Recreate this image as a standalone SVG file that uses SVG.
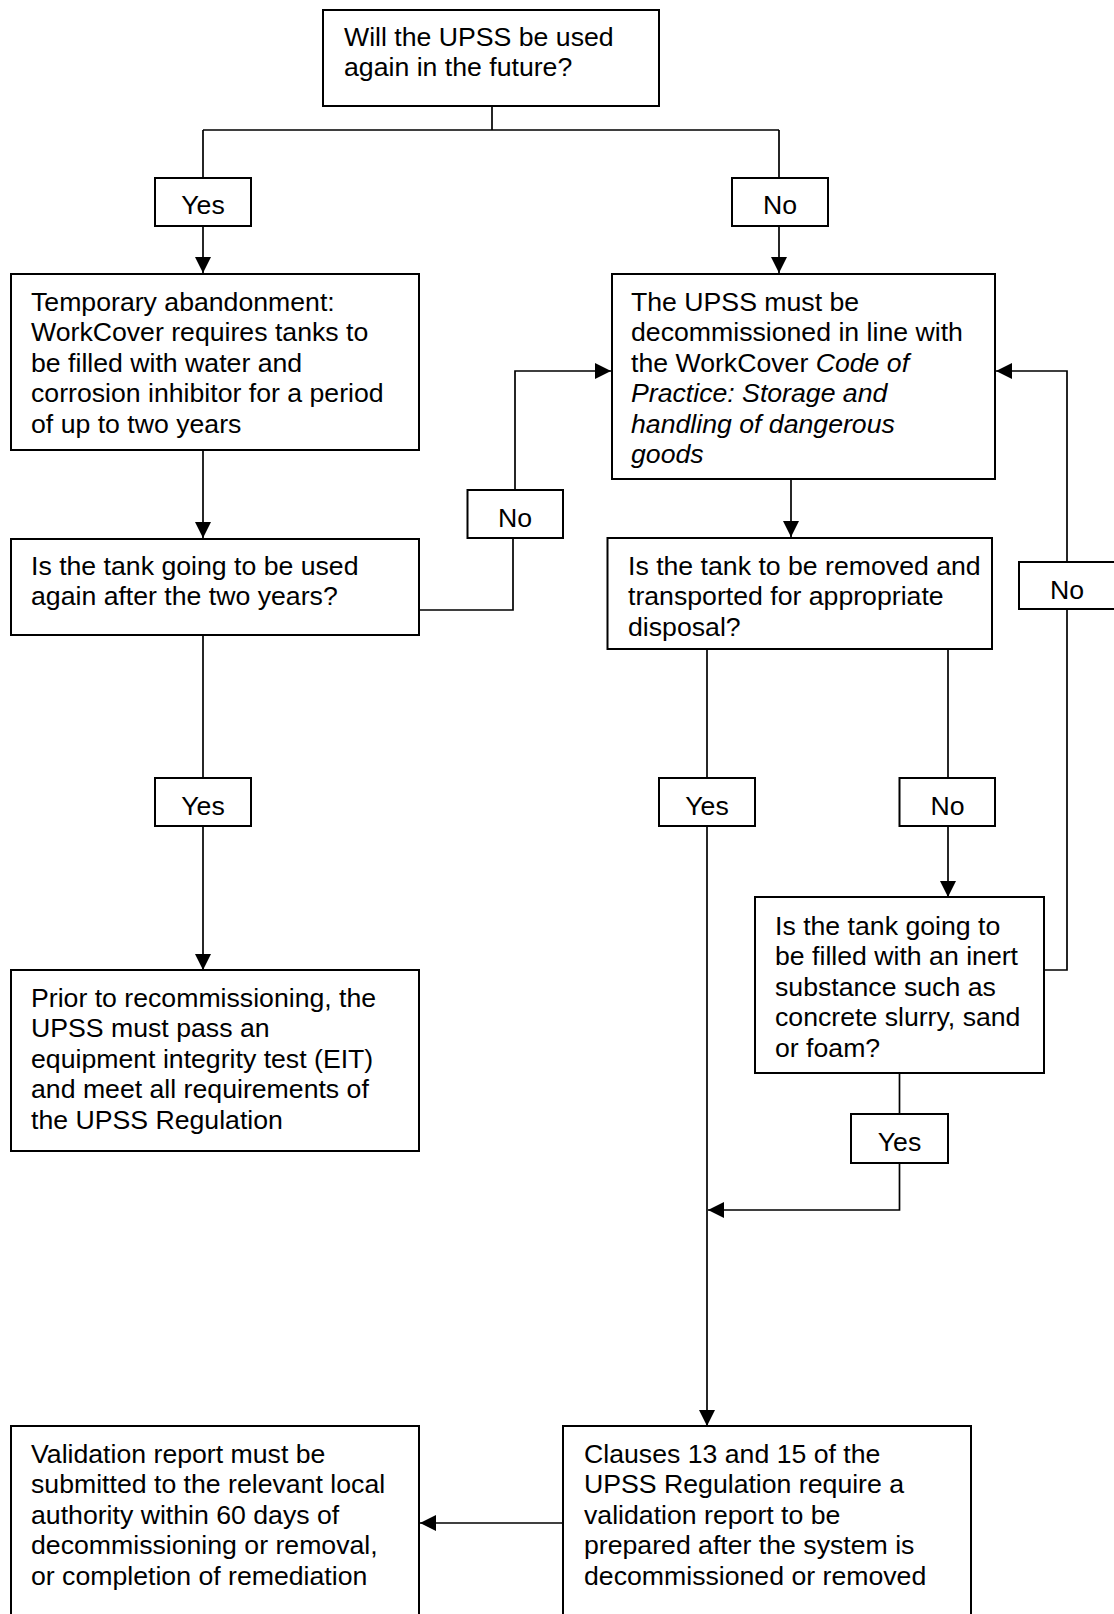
<svg xmlns="http://www.w3.org/2000/svg" width="1114" height="1614" viewBox="0 0 1114 1614">
<style>
rect{fill:#fff;stroke:#000;stroke-width:2}
text{font-family:"Liberation Sans",Arial,sans-serif;font-size:26.67px;fill:#000}
.c{text-anchor:middle}
.lines path{fill:none;stroke:#000;stroke-width:1.7}
</style>
<defs>
<marker id="ah" markerUnits="userSpaceOnUse" markerWidth="16" markerHeight="16" refX="16" refY="8" orient="auto">
<path d="M0,0 L16,8 L0,16 z" fill="#000"/>
</marker>
</defs>
<rect x="0" y="0" width="1114" height="1614" style="stroke:none"/>
<g class="lines" id="connectors">
<path d="M492,106 V130 M203,130 H779 M203,130 V178 M779,130 V178"/>
<path d="M203,226 V273" marker-end="url(#ah)"/>
<path d="M779,226 V273" marker-end="url(#ah)"/>
<path d="M203,450 V538" marker-end="url(#ah)"/>
<path d="M417,610 H513 V538"/>
<path d="M515,490 V371 H611" marker-end="url(#ah)"/>
<path d="M203,635 V778"/>
<path d="M203,826 V970" marker-end="url(#ah)"/>
<path d="M791,479 V537" marker-end="url(#ah)"/>
<path d="M707,649 V778"/>
<path d="M707,826 V1426" marker-end="url(#ah)"/>
<path d="M948,649 V778"/>
<path d="M948,826 V897" marker-end="url(#ah)"/>
<path d="M1044,970 H1067 V609"/>
<path d="M1067,562 V371 H996" marker-end="url(#ah)"/>
<path d="M899.5,1073 V1114"/>
<path d="M899.5,1163 V1210 H708" marker-end="url(#ah)"/>
<path d="M563,1523 H420" marker-end="url(#ah)"/>
</g>
<g id="n-top"><rect x="323" y="10" width="336" height="96"/>
<text x="344" y="45.5">Will the UPSS be used</text><text x="344" y="75.5">again in the future?</text></g>
<g id="l-yes1"><rect x="155" y="178" width="96" height="48"/><text class="c" x="203" y="213.5">Yes</text></g>
<g id="l-no1"><rect x="732" y="178" width="96" height="48"/><text class="c" x="780" y="213.5">No</text></g>
<g id="n-temp"><rect x="11" y="274" width="408" height="176"/>
<text x="31" y="311">Temporary abandonment:</text>
<text x="31" y="341.4">WorkCover requires tanks to</text>
<text x="31" y="371.8">be filled with water and</text>
<text x="31" y="402.2">corrosion inhibitor for a period</text>
<text x="31" y="432.6">of up to two years</text></g>
<g id="n-upss"><rect x="612" y="274" width="383" height="205"/>
<text x="631" y="311">The UPSS must be</text>
<text x="631" y="341.4">decommissioned in line with</text>
<text x="631" y="371.8">the WorkCover <tspan font-style="italic">Code of</tspan></text>
<text x="631" y="402.2" font-style="italic">Practice: Storage and</text>
<text x="631" y="432.6" font-style="italic">handling of dangerous</text>
<text x="631" y="463" font-style="italic">goods</text></g>
<g id="l-no2"><rect x="467.5" y="490" width="95.5" height="48"/><text class="c" x="515" y="526.5">No</text></g>
<g id="n-used"><rect x="11" y="539" width="408" height="96"/>
<text x="31" y="575">Is the tank going to be used</text>
<text x="31" y="605.4">again after the two years?</text></g>
<g id="n-removed"><rect x="607.5" y="538" width="384.5" height="111"/>
<text x="628" y="575">Is the tank to be removed and</text>
<text x="628" y="605.4">transported for appropriate</text>
<text x="628" y="635.8">disposal?</text></g>
<g id="l-no4"><rect x="1019" y="562" width="100" height="47"/><text class="c" x="1067" y="598.5">No</text></g>
<g id="l-yes2"><rect x="155" y="778" width="96" height="48"/><text class="c" x="203" y="814.5">Yes</text></g>
<g id="l-yes3"><rect x="659" y="778" width="96" height="48"/><text class="c" x="707" y="814.5">Yes</text></g>
<g id="l-no3"><rect x="899.5" y="778" width="95.5" height="48"/><text class="c" x="947.5" y="814.5">No</text></g>
<g id="n-inert"><rect x="755" y="897" width="289" height="176"/>
<text x="775" y="935">Is the tank going to</text>
<text x="775" y="965.4">be filled with an inert</text>
<text x="775" y="995.8">substance such as</text>
<text x="775" y="1026.2">concrete slurry, sand</text>
<text x="775" y="1056.6">or foam?</text></g>
<g id="n-prior"><rect x="11" y="970" width="408" height="181"/>
<text x="31" y="1007">Prior to recommissioning, the</text>
<text x="31" y="1037.4">UPSS must pass an</text>
<text x="31" y="1067.8">equipment integrity test (EIT)</text>
<text x="31" y="1098.2">and meet all requirements of</text>
<text x="31" y="1128.6">the UPSS Regulation</text></g>
<g id="l-yes4"><rect x="851" y="1114" width="97" height="49"/><text class="c" x="899.5" y="1150.5">Yes</text></g>
<g id="n-validation"><rect x="11" y="1426" width="408" height="200"/>
<text x="31" y="1463">Validation report must be</text>
<text x="31" y="1493.4">submitted to the relevant local</text>
<text x="31" y="1523.8">authority within 60 days of</text>
<text x="31" y="1554.2">decommissioning or removal,</text>
<text x="31" y="1584.6">or completion of remediation</text></g>
<g id="n-clauses"><rect x="563" y="1426" width="408" height="200"/>
<text x="584" y="1463">Clauses 13 and 15 of the</text>
<text x="584" y="1493.4">UPSS Regulation require a</text>
<text x="584" y="1523.8">validation report to be</text>
<text x="584" y="1554.2">prepared after the system is</text>
<text x="584" y="1584.6">decommissioned or removed</text></g>
</svg>
